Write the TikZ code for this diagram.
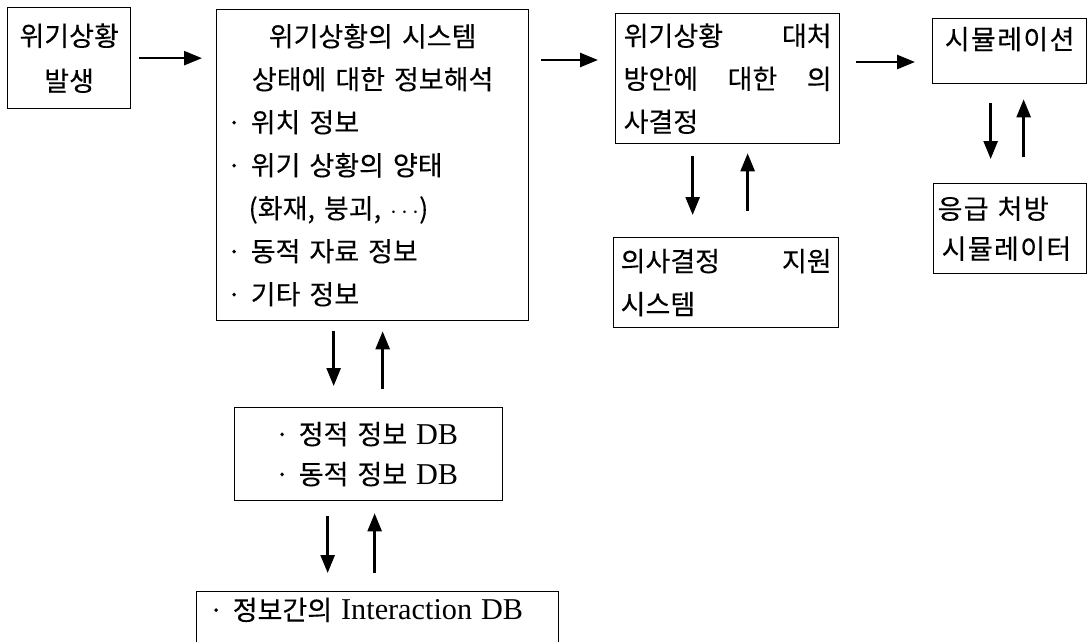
\documentclass[tikz,border=0pt]{standalone}
\usepackage{fontspec}
\setmainfont{Noto Sans CJK KR}[WordSpace=3.6, FakeBold=0.2]
\newfontfamily\wide{Noto Sans CJK KR}[WordSpace=3.6, FakeBold=0.2, LetterSpace=5]
\newfontfamily\latin{Liberation Serif}[Scale=1.12]
\usetikzlibrary{arrows.meta}
\tikzset{
    box/.style={draw, line width=1.3pt, anchor=north west, inner ysep=0pt, align=left}, % 상자
    arr/.style={line width=2.6pt, -{Triangle[length=18pt, width=14pt]}}, % 화살표
    txt/.style={font=\fontsize{27}{43}\selectfont} % 본문 글꼴
}
\newcommand{\ctr}[1]{\hfill#1\hfill\null}

\begin{document}
\begin{tikzpicture}[x=1pt, y=1pt, txt]
    \useasboundingbox (0,0) rectangle (1088,-641);

    \node[box, align=center, minimum width=123pt, minimum height=101pt, font=\fontsize{27}{45}\selectfont] (A) at (7,-7) {위기상황\\발생};
    \node[box, inner xsep=10pt, text width=292pt, minimum width=312pt, minimum height=311pt] (B) at (216,-9) {
        \ctr{위기상황의 시스템}\\
        \ctr{상태에 대한 정보해석}\\
        · 위치 정보\\
        · 위기 상황의 양태\\
        \hspace*{22pt}(화재, 붕괴, $\cdots$)\\
        · 동적 자료 정보\\
        · 기타 정보};
    \node[box, inner xsep=8pt, text width=208pt, minimum width=224pt, minimum height=130pt] (C) at (615,-13) {위기상황\hfill 대처\\방안에\hfill 대한\hfill 의\\사결정};
    \node[box, align=center, inner xsep=4pt, inner ysep=8pt, text depth=26pt, minimum width=154pt, minimum height=65pt, font=\wide\fontsize{27}{43}\selectfont] (D) at (932,-18) {시뮬레이션};
    \node[box, inner xsep=4pt, text width=145pt, minimum width=153pt, minimum height=90pt, font=\wide\fontsize{27}{40}\selectfont] (E) at (933,-183) {응급 처방\\\hspace*{4pt}시뮬레이터};
    \node[box, inner xsep=7pt, text width=211pt, minimum width=225pt, minimum height=90pt] (F) at (613,-237) {의사결정\hfill 지원\\시스템};
    \node[box, inner xsep=40pt, text width=188pt, minimum width=268pt, minimum height=93pt, font=\fontsize{27}{40}\selectfont] (G) at (234,-407) {\mbox{· 정적 정보 {\latin DB}}\\\mbox{· 동적 정보 {\latin DB}}};
    \node[box, inner xsep=12pt, inner ysep=6pt, text depth=30pt, text width=338pt, minimum width=362pt] (H) at (196,-591) {· 정보간의 {\latin Interaction DB}};

    % 가로 화살표
    \draw[arr, shorten <=8pt, shorten >=14pt] (A.east) -- (A.east -| B.west);
    \path ([yshift=-51pt]B.north east) coordinate (bc);
    \draw[arr, shorten <=12pt, shorten >=17pt] (bc) -- (bc -| C.west);
    \path ([yshift=-49pt]C.north east) coordinate (cd);
    \draw[arr, shorten <=16pt, shorten >=17pt] (cd) -- (cd -| D.west);

    % 세로 화살표
    \path ([xshift=-39pt]B.south) coordinate (bg1) ([xshift=10pt]B.south) coordinate (bg2);
    \draw[arr, shorten <=10pt, shorten >=21pt] (bg1) -- (bg1 |- G.north);
    \draw[arr, shorten <=18pt, shorten >=10pt] (bg2 |- G.north) -- (bg2);
    \path ([xshift=-41pt]G.south) coordinate (gh1) ([xshift=6pt]G.south) coordinate (gh2);
    \draw[arr, shorten <=15pt, shorten >=18pt] (gh1) -- (gh1 |- H.north);
    \draw[arr, shorten <=18pt, shorten >=12pt] (gh2 |- H.north) -- (gh2);
    \path ([xshift=-35pt]C.south) coordinate (cf1) ([xshift=20pt]C.south) coordinate (cf2);
    \draw[arr, shorten <=12pt, shorten >=22pt] (cf1) -- (cf1 |- F.north);
    \draw[arr, shorten <=26pt, shorten >=9pt] (cf2 |- F.north) -- (cf2);
    \path ([xshift=-19pt]D.south) coordinate (de1) ([xshift=14pt]D.south) coordinate (de2);
    \draw[arr, shorten <=19pt, shorten >=24pt] (de1) -- (de1 |- E.north);
    \draw[arr, shorten <=26pt, shorten >=15pt] (de2 |- E.north) -- (de2);
\end{tikzpicture}
\end{document}
